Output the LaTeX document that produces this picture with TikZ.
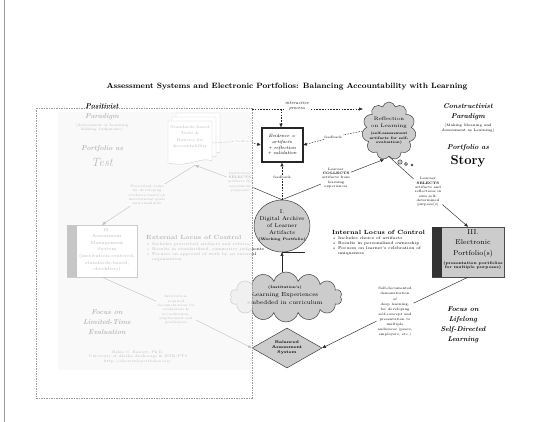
\documentclass[tikz,border=0pt]{standalone}
\usetikzlibrary{shapes.geometric,shapes.symbols,arrows.meta}
\definecolor{boxgray}{gray}{0.8}
\definecolor{bardark}{gray}{0.2}
\begin{document}
\begin{tikzpicture}[x=1pt,y=-1pt,
  >={Triangle[length=3.6pt,width=3pt]},
  conn/.style={draw=black!85, line width=0.45pt},
  fbline/.style={draw=black!85, line width=0.45pt, dash pattern=on 1.6pt off 1.2pt},
  lbl/.style={font=\fontsize{3.4}{4.3}\selectfont, align=center, inner sep=1pt},
  grayshape/.style={draw=black!75, fill=boxgray, line width=0.5pt},
  bigit/.style={font=\fontsize{7}{10}\selectfont\bfseries\itshape, align=center, inner sep=0pt},
  subp/.style={font=\fontsize{3.6}{4.6}\selectfont, align=center, inner sep=0pt},
  plain/.style={inner sep=0pt, align=center}]
\useasboundingbox (0,0) rectangle (560,422);
\draw[black!40, line width=0.6pt] (4,0) -- (4,422);

\node[plain, font=\fontsize{7.7}{9}\selectfont\bfseries] (title) at (287,87)
  {Assessment Systems and Electronic Portfolios: Balancing Accountability with Learning};

% ---------- left (faded) panel ----------
\fill[black!7] (58,112) rectangle (252,370);
\node[bigit] (posit) at (102,112) {Positivist\\Paradigm};
\node[subp] (positsub) at (102,127.5) {(Assessment of Learning\\Making Judgments)};
\node[bigit] (ptestA) at (102,149) {Portfolio as};
\node[plain, font=\fontsize{12}{12}\selectfont\itshape] (ptest) at (102,162) {Test};

\node[minimum width=44pt, minimum height=44pt, inner sep=0pt] (stack) at (190,143) {};
\foreach \o in {8,4,0}{
  \filldraw[draw=black!70, fill=white, line width=0.4pt, shift={(\o,-\o)}]
    (168,121) -- (212,121) -- (212,161) .. controls (201,156) and (190,168) .. (168,163) -- cycle;}
\node[plain, font=\fontsize{4}{6.5}\selectfont] (stacktxt) at (190,137) {Standards-based\\Tests \&\\Rubrics for\\Accountability};

\node[lbl] (prescr) at (147,195) {Prescribed tasks\\for developing\\evidence based on\\institutional goals\\and standards};

\node[draw=black!70, fill=white, minimum width=70pt, minimum height=52pt, inner sep=0pt] (boxII) at (102,251) {};
\fill[bardark] (boxII.north west) rectangle ([xshift=10pt]boxII.south west);
\node[plain, font=\fontsize{4.4}{6.6}\selectfont] (boxIItxt) at (107,250) {II.\\Assessment\\Management\\System\\(institution-centered,\\standards-based,\\checklists)};

\node[plain, anchor=west, font=\fontsize{6}{7}\selectfont\bfseries] (extloc) at (146,237) {External Locus of Control};
\node[plain, anchor=north west, align=left, font=\fontsize{4}{5}\selectfont] (extbul) at (146,242)
  {\textbullet\ Includes prescribed artifacts and rubrics\\
   \textbullet\ Results in standardized, summative judgments\\
   \textbullet\ Focuses on approval of work by an external\\
   \hphantom{\textbullet\ }organization};

\node[lbl] (sumlbl) at (176,310) {Institution-\\required\\documentation for\\evaluation \&\\accreditation,\\employment and\\graduation};
\node[bigit] (focuslim) at (107,322) {Focus on\\Limited-Time\\Evaluation};
\node[subp] (credit) at (138,357) {Helen C. Barrett, Ph.D.\\University of Alaska Anchorage \& ISTE/PT3\\http://electronicportfolios.org/};

% ---------- right panel ----------
\node[draw=black!85, line width=0.5pt, fill=white, minimum width=42pt, minimum height=35pt,
  inner sep=0pt, font=\fontsize{4.6}{5.6}\selectfont\itshape, align=center] (evid) at (282,145)
  {Evidence =\\artifacts\\+ reflection\\+ validation};
\draw[black!85, line width=0.4pt] ([shift={(1.3,1.3)}]evid.north west) rectangle ([shift={(-1.3,-1.3)}]evid.south east);

\node[cloud, cloud puffs=11, grayshape, minimum width=54pt, minimum height=58pt, inner sep=0pt] (refl) at (389,131) {};
\node[plain, font=\fontsize{5}{7}\selectfont] (refl1) at (389,122.5) {Reflection\\on Learning};
\node[plain, font=\fontsize{3.5}{4.6}\selectfont\bfseries] (refl2) at (389,138.5) {(self-assessment\\artifacts for self-\\evaluation)};
\draw[grayshape] (400,162) circle[radius=2.2pt];
\draw[grayshape] (406,164) circle[radius=1.6pt];
\draw[grayshape] (412,165) circle[radius=1.1pt];

\node[bigit] (constr) at (468,112) {Constructivist\\Paradigm};
\node[subp] (constrsub) at (468,128) {(Making Meaning and\\Assessment as Learning)};
\node[bigit] (pstoryA) at (468,148) {Portfolio as};
\node[plain, font=\fontsize{13}{13}\selectfont\bfseries] (pstory) at (468,161) {Story};

\node[lbl] (collect) at (336,178) {Learner\\\textbf{COLLECTS}\\artifacts from\\learning\\experiences};
\node[lbl] (select) at (428,192) {Learner\\\textbf{SELECTS}\\artifacts and\\reflections in\\own self-\\determined\\purpose(s)};
\node[lbl] (instsel) at (240,182) {Institution\\\textbf{SELECTS}\\artifacts for\\assessment\\purposes};
\node[lbl, fill=white] (fb1) at (244,141) {feedback};
\node[lbl, fill=white] (fb2) at (333,137) {feedback};
\node[lbl, fill=white] (fb3) at (282,177) {feedback};

\node[ellipse, grayshape, minimum width=56pt, minimum height=52pt, inner sep=0pt] (archive) at (282,226) {};
\node[plain, font=\fontsize{5.5}{7}\selectfont] (archtxt) at (282,222) {I.\\Digital Archive\\of Learner\\Artifacts};
\node[plain, font=\fontsize{3.6}{4.6}\selectfont\bfseries] (archtxt2) at (282,240) {(Working Portfolio)};

\node[plain, anchor=west, font=\fontsize{6}{7}\selectfont\bfseries] (intloc) at (332,232) {Internal Locus of Control};
\node[plain, anchor=north west, align=left, font=\fontsize{4}{5}\selectfont] (intbul) at (332,236.5)
  {\textbullet\ Includes choice of artifacts\\
   \textbullet\ Results in personalized ownership\\
   \textbullet\ Focuses on learner's celebration of\\
   \hphantom{\textbullet\ }uniqueness};

\node[draw=black!70, fill=boxgray, minimum width=72pt, minimum height=50pt, inner sep=0pt] (eport) at (468,252) {};
\fill[bardark] (eport.north west) rectangle ([xshift=10pt]eport.south west);
\node[plain, font=\fontsize{7}{10.5}\selectfont] (eporttxt) at (473,243) {III.\\Electronic\\Portfolio(s)};
\node[plain, font=\fontsize{3.8}{4.8}\selectfont\bfseries] (eporttxt2) at (473,265.5) {(presentation portfolios\\for multiple purposes)};

\node[lbl, font=\fontsize{3.4}{5.1}\selectfont] (selfdoc) at (395,312) {Self-documented\\demonstration\\of\\deep learning,\\for developing\\self-concept and\\presentation to\\multiple\\audiences (peers,\\employers, etc.)};
\node[bigit] (focuslife) at (463,324.5) {Focus on\\Lifelong\\Self-Directed\\Learning};

\node[cloud, cloud puffs=14, grayshape, minimum width=112pt, minimum height=50pt, inner sep=0pt] (learnexp) at (286,297) {};
\node[plain, font=\fontsize{3.6}{4.6}\selectfont\bfseries] (le1) at (285,288) {(Institution's)};
\node[plain, font=\fontsize{5.8}{7.5}\selectfont] (le2) at (285,298.5) {Learning Experiences\\embedded in curriculum};

\node[diamond, grayshape, minimum width=70pt, minimum height=40pt, inner sep=0pt, aspect=1.75,
  font=\fontsize{4}{5}\selectfont\bfseries, align=center] (balanced) at (287,348) {Balanced\\Assessment\\System};

% ---------- connectors ----------
\draw[conn] (archive.north) -- (instsel);
\draw[conn,->] (instsel) -- ([xshift=5pt]stack.south);
\draw[conn] ([xshift=5pt]stack.south) -- (prescr);
\draw[conn,->] (prescr) -- (boxII.north);
\draw[conn] (archive.north) -- (collect);
\draw[conn,->] (collect) -- (refl.260);
\draw[conn] (refl.south) -- (select);
\draw[conn,->] (select) -- (eport.north);
\draw[conn] (eport.south) -- (selfdoc);
\draw[conn,->] (selfdoc) -- (balanced.east);
\draw[conn] (boxII.south) -- (sumlbl);
\draw[conn,->] (sumlbl) -- (balanced.west);
\draw[conn,->] (archive.south |- learnexp.north) -- (archive.south);
\draw[conn] (archive.south) -- ++(23,0);

\coordinate (ia0) at (252,109);
\coordinate (ij) at (281,109);
\draw[fbline,->] (ia0) -- (ia0 -| refl.west);
\draw[fbline,->] (ij) -- (ij |- evid.north);
\node[plain, fill=white, inner sep=0.8pt, font=\fontsize{4.4}{5.4}\selectfont\itshape] (ip) at (297,106) {interactive\\process};
\draw[fbline] (archive.north) -- (fb3);
\draw[fbline,->] (fb3) -- (evid.south);
\draw[fbline] (refl.west) -- (fb2);
\draw[fbline,->] (fb2) -- (evid.east);
\draw[fbline] (stack.east) -- (fb1);
\draw[fbline,->] (fb1) -- (evid.west);

% ---------- fading overlay ----------
\fill[white, fill opacity=0.72] (36,108) rectangle (252,398);
\draw[black!40, dash pattern=on 1.5pt off 1pt, line width=0.5pt] (36,108) rectangle (252,398);
\end{tikzpicture}
\end{document}
